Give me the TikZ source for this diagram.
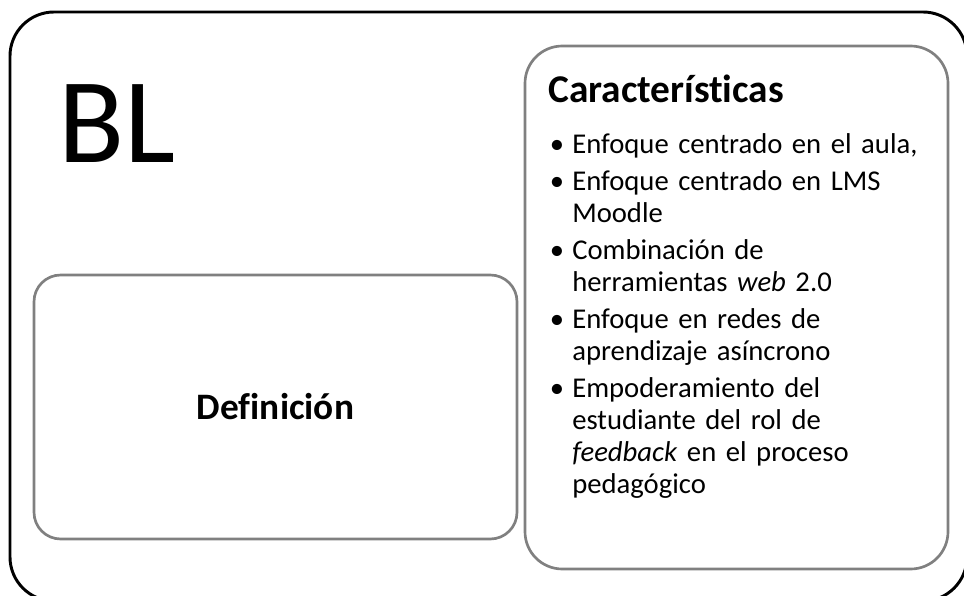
\documentclass[tikz,border=0pt]{standalone}
\usepackage{fontspec}
\setmainfont{Carlito}[Ligatures={NoCommon,NoContextual}]
\usetikzlibrary{positioning}
\definecolor{boxgray}{RGB}{128,128,128}
\newcommand{\itembullet}{\llap{\textbullet\hspace{6pt}}}
\tikzset{
  outerbox/.style 2 args={draw=black,line width=2.2pt,rounded corners=33pt,minimum width=#1,minimum height=#2,inner sep=0pt},
  gbox/.style 2 args={draw=boxgray,line width=2pt,minimum width=#1,minimum height=#2,inner sep=0pt,align=center},
  bigtxt/.style={font=\fontsize{91}{100}\selectfont,inner sep=0pt},
  titletxt/.style={font=\fontsize{28}{34}\selectfont\bfseries,inner sep=0pt},
  itemtxt/.style={font=\fontsize{21.5}{24}\selectfont,inner sep=0pt,anchor=base west,text width=285pt,align=left},
}
\begin{document}
\begin{tikzpicture}[x=0.75pt,y=-0.75pt]
\useasboundingbox (0,0) rectangle (964,596);
% --- Frames -----------------------------------------------------------------

  \node[outerbox={717.75pt}{441.75pt}] (blframe) at (488.5,306.5) {};

  \node[gbox={362.25pt}{198pt},rounded corners=20pt,titletxt] (defbox) at (275.5,407) {Definición};

  \node[gbox={317.25pt}{392.25pt},rounded corners=28pt] (charbox) at (736.5,307.5) {};

% --- Texts ------------------------------------------------------------------

  \node[bigtxt,anchor=base west] (bl) at (58,162) {BL};

  \node[titletxt,anchor=base west,font=\fontsize{29.5}{34}\selectfont\bfseries] (chartitle) at (548,102) {Características};

  \node[itemtxt] (item1) at (572,153) {\itembullet Enfoque centrado en el aula,};

  \node[itemtxt] (item2) at (572,190) {\itembullet Enfoque centrado en LMS\\Moodle};

  \node[itemtxt] (item3) at (572,259) {\itembullet Combinación de\\herramientas \textit{web} 2.0};

  \node[itemtxt] (item4) at (572,328) {\itembullet Enfoque en redes de\\aprendizaje asíncrono};

  \node[itemtxt] (item5) at (572,397) {\itembullet Empoderamiento del\\estudiante del rol de\\\textit{feedback} en el proceso\\pedagógico};

\end{tikzpicture}
\end{document}
